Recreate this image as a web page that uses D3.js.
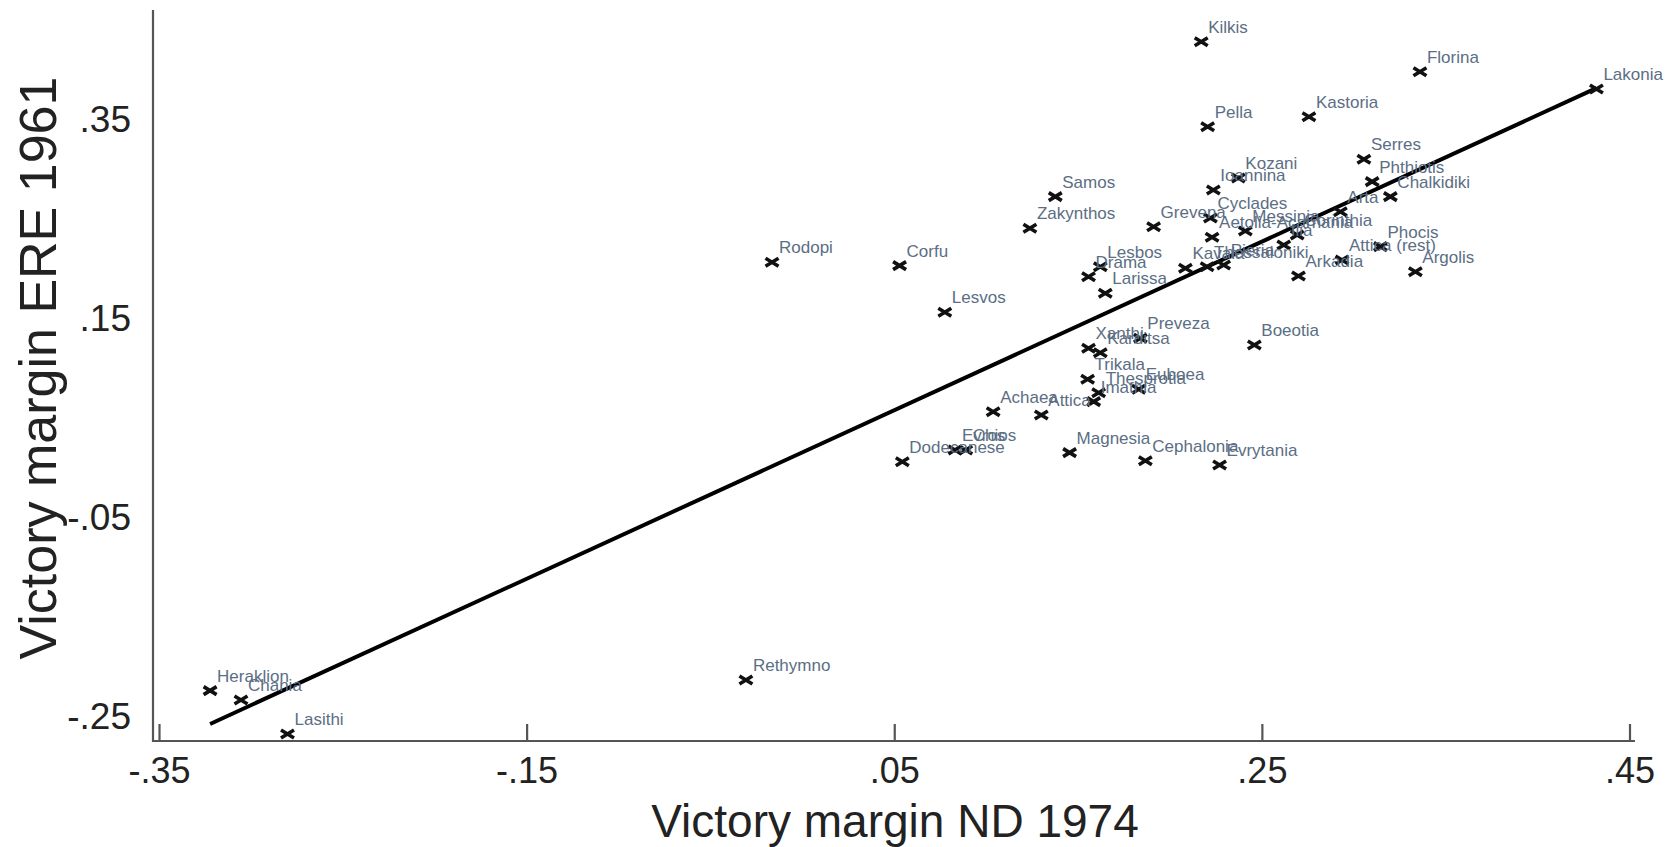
<!DOCTYPE html>
<html>
<head>
<meta charset="utf-8">
<script src="https://cdn.jsdelivr.net/npm/d3@7"></script>
<style>
  html, body { margin: 0; padding: 0; background: #ffffff; }
  svg { display: block; }
</style>
</head>
<body>
<svg id="chart" width="1671" height="847"></svg>
<script>
// ---- data ----
const districts = ["Kilkis","Florina","Lakonia","Pella","Kastoria","Serres","Kozani","Ioannina","Phthiotis","Chalkidiki",
  "Samos","Zakynthos","Rodopi","Corfu","Lesvos","Grevena","Cyclades","Aetolia-Acarnania","Messinia","Corinthia",
  "Arta","Phocis","Attica (rest)","Arkadia","Argolis","Drama","Lesbos","Larissa","Kavala","Thessaloniki",
  "Pieria","Ilia","Xanthi","Karditsa","Preveza","Boeotia","Trikala","Thesprotia","Euboea","Imathia",
  "Achaea","Attica","Magnesia","Cephalonia","Evrytania","Dodecanese","Evros","Chios","Rethymno","Heraklion",
  "Chania","Lasithi"];
const nd1974 = [0.217,0.336,0.432,0.2205,0.2756,0.3055,0.2372,0.2236,0.310,0.3199,
  0.1376,0.1238,-0.0165,0.0529,0.0775,0.1911,0.222,0.2229,0.241,0.2692,
  0.2927,0.3145,0.2936,0.2699,0.3335,0.1557,0.1621,0.1648,0.2084,0.2202,
  0.2292,0.2619,0.1557,0.1621,0.1839,0.2459,0.1552,0.1612,0.183,0.1585,
  0.1038,0.130,0.1454,0.1866,0.227,0.0544,0.083,0.0889,-0.0307,-0.3222,
  -0.3054,-0.2801];
const ere1961 = [0.4288,0.3986,0.3812,0.3433,0.3533,0.3105,0.2917,0.2796,0.288,0.2729,
  0.2729,0.2411,0.2069,0.2035,0.1566,0.2427,0.2514,0.232,0.2384,0.2343,
  0.2578,0.2226,0.2092,0.1931,0.1974,0.1924,0.2024,0.1757,0.2008,0.2024,
  0.2042,0.2243,0.1204,0.1159,0.1304,0.1237,0.0892,0.0757,0.0791,0.0667,
  0.0566,0.0533,0.0154,0.0073,0.003,0.0063,0.0181,0.0181,-0.2133,-0.224,
  -0.2334,-0.2676];
const xTicks = [-0.35, -0.15, 0.05, 0.25, 0.45];
const yTicks = [-0.25, -0.05, 0.15, 0.35];
const fitX = [-0.3222, 0.432];
const fitY = [-0.2575, 0.382];
const xTitle = "Victory margin ND 1974";
const yTitle = "Victory margin ERE 1961";

// ---- layout ----
const svg = d3.select("#chart");
const x = d3.scaleLinear().domain([-0.35, 0.45]).range([159, 1629.5]);
const y = d3.scaleLinear().domain([-0.25, 0.35]).range([716.5, 120]);
const axisColor = "#555555";
const font = "Liberation Sans, Arial, sans-serif";
const fmt = v => (v < 0 ? "-" : "") + d3.format(".2f")(Math.abs(v)).replace(/^0\./, ".");

// axis lines
const axisY = 741, axisLeft = 153, axisRight = 1635, axisTop = 10;
svg.append("line").attr("x1", axisLeft).attr("x2", axisLeft).attr("y1", axisTop).attr("y2", axisY + 1)
  .attr("stroke", axisColor).attr("stroke-width", 2.2);

const xAxis = d3.axisBottom(x).tickValues(xTicks).tickSize(-17).tickFormat(fmt).tickPadding(16);
const gx = svg.append("g").attr("transform", `translate(0,${axisY})`).call(xAxis);
gx.select(".domain").attr("d", `M${axisLeft},0H${axisRight}`).attr("stroke", axisColor).attr("stroke-width", 2.2);
gx.selectAll(".tick line").attr("stroke", axisColor).attr("stroke-width", 2.2);
gx.selectAll(".tick text").attr("font-family", font).attr("font-size", 36)
  .attr("fill", "#222").attr("dy", "0.71em");

const yAxis = d3.axisLeft(y).tickValues(yTicks).tickSize(0).tickFormat(fmt).tickPadding(22);
const gy = svg.append("g").attr("transform", `translate(${axisLeft},0)`).call(yAxis);
gy.select(".domain").remove();
gy.selectAll(".tick text").attr("font-family", font).attr("font-size", 37)
  .attr("fill", "#222");

// titles
svg.append("text").attr("x", 895).attr("y", 837).attr("text-anchor", "middle")
  .attr("font-family", font).attr("font-size", 46).attr("fill", "#222")
  .text(xTitle);
svg.append("text").attr("transform", "translate(56,368) rotate(-90)").attr("text-anchor", "middle")
  .attr("font-family", font).attr("font-size", 52).attr("fill", "#222")
  .text(yTitle);

// fitted line
svg.append("path")
  .datum(fitX.map((d, i) => [d, fitY[i]]))
  .attr("d", d3.line().x(d => x(d[0])).y(d => y(d[1])))
  .attr("stroke", "#000").attr("stroke-width", 4).attr("fill", "none");

// markers
const pts = districts.map((name, i) => ({ name, vx: nd1974[i], vy: ere1961[i] }));
const mk = svg.append("g");
mk.selectAll("path").data(pts).join("path")
  .attr("transform", d => `translate(${x(d.vx)},${y(d.vy)})`)
  .attr("d", "M-6.5,-4L6.5,4M-6.5,4L6.5,-4")
  .attr("stroke", "#111").attr("stroke-width", 3.6).attr("fill", "none");

// labels
svg.append("g").selectAll("text").data(pts).join("text")
  .attr("x", d => x(d.vx) + 7).attr("y", d => y(d.vy) - 9)
  .attr("font-family", font).attr("font-size", 17)
  .attr("fill", "#5b6e84")
  .text(d => d.name);
</script>
</body>
</html>
